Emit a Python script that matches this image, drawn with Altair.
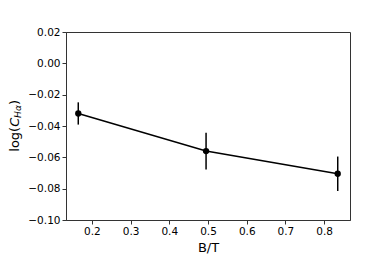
import altair as alt
import pandas as pd

bt = [0.165, 0.495, 0.835]
logc = [-0.032, -0.056, -0.0705]
err_lo = [-0.0391, -0.0677, -0.0815]
err_hi = [-0.0249, -0.0443, -0.0595]

x_ticks = [0.2, 0.3, 0.4, 0.5, 0.6, 0.7, 0.8]
y_ticks = [-0.10, -0.08, -0.06, -0.04, -0.02, 0.00, 0.02]

df = pd.DataFrame({"bt": bt, "y": logc, "lo": err_lo, "hi": err_hi})

FONT = "DejaVu Sans"
AX = "#333333"

xs = alt.Scale(domain=[0.1333, 0.8667], nice=False, zero=False)
ys = alt.Scale(domain=[-0.10, 0.02], nice=False, zero=False)

xax = alt.Axis(values=x_ticks, format=".1f", grid=False, tickSize=4, labelPadding=2,
               labelFontSize=10.5, labelFont=FONT, labelColor="black", labelOverlap=False,
               domainColor=AX, tickColor=AX, title="B/T", titleFont=FONT,
               titleFontSize=13, titleFontWeight="normal", titleColor="black",
               titleBaseline="alphabetic", titleY=31.5)
yax = alt.Axis(values=y_ticks, format=".2f", grid=False, tickSize=4, labelPadding=2,
               labelFontSize=10.5, labelFont=FONT, labelColor="black", labelOverlap=False,
               domainColor=AX, tickColor=AX, title=None)

base = alt.Chart(df)

bars = base.mark_rule(color="black", strokeWidth=1.5).encode(
    x=alt.X("bt:Q", scale=xs, axis=xax),
    y=alt.Y("lo:Q", scale=ys, axis=yax),
    y2="hi:Q",
)
line = base.mark_line(color="black", strokeWidth=1.5).encode(
    x=alt.X("bt:Q", scale=xs, axis=xax), y=alt.Y("y:Q", scale=ys, axis=yax)
)
pts = base.mark_circle(color="black", opacity=1, size=40).encode(
    x=alt.X("bt:Q", scale=xs, axis=xax), y=alt.Y("y:Q", scale=ys, axis=yax)
)

one = pd.DataFrame({"a": [0]})
def piece(txt, xpos, ypos, size, italic=False):
    return alt.Chart(one).mark_text(
        text=txt, angle=270, align="left", baseline="alphabetic",
        font=FONT, fontSize=size, fontStyle="italic" if italic else "normal",
        color="black"
    ).encode(x=alt.value(xpos), y=alt.value(ypos))

TX = -47.5
title_parts = [
    piece("log(", TX, 119.7, 13),
    piece("C", TX, 94.8, 13, True),
    piece("Hα", TX + 2, 85.9, 9.1, True),
    piece(")", TX, 73.1, 13),
]

chart = alt.layer(bars, line, pts, *title_parts).properties(
    width=284, height=188,
    autosize=alt.AutoSizeParams(type="none"),
    padding={"left": 58, "top": 24, "right": 31, "bottom": 36},
).configure_view(stroke=AX, strokeWidth=1).configure_axis(domainWidth=1, tickWidth=1)

chart.save("out.html", embed_options={"renderer": "svg", "actions": False})
